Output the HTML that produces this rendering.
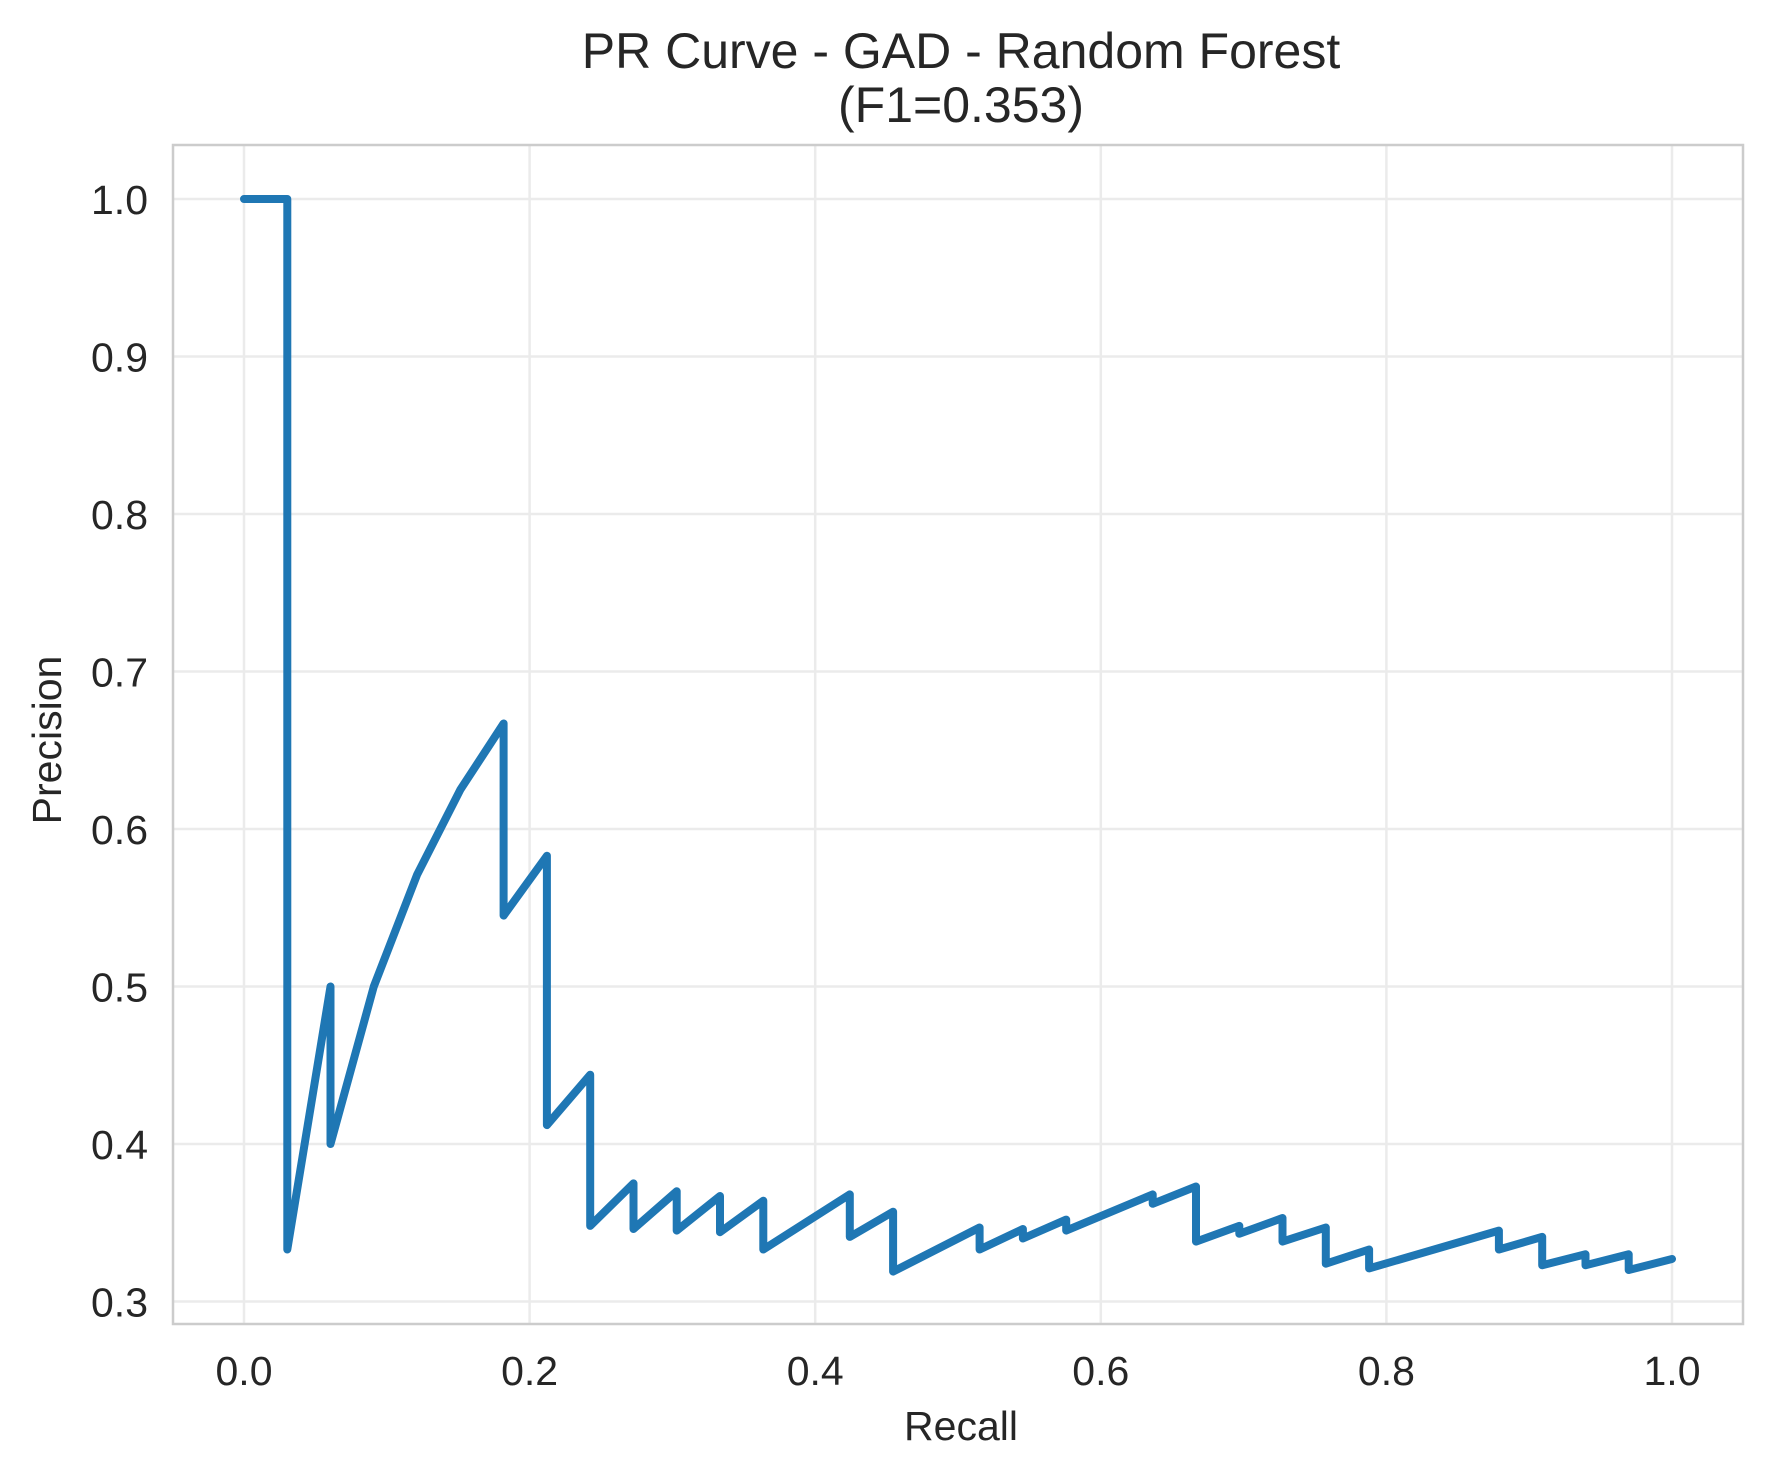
<!DOCTYPE html>
<html><head><meta charset="utf-8"><style>
html,body{margin:0;padding:0;background:#fff;}
svg{display:block;font-family:"Liberation Sans","DejaVu Sans",sans-serif;}
</style></head><body>
<svg id="chart" width="1771" height="1476" viewBox="0 0 1771 1476" xmlns="http://www.w3.org/2000/svg">
<rect width="1771" height="1476" fill="#fff"/>
<g id="grid"></g>
<rect x="173" y="145" width="1570" height="1179" fill="none" stroke="#cccccc" stroke-width="2.5"/>
<g id="ticks"></g>
<path id="curve" fill="none" stroke="#1f77b4" stroke-width="8" stroke-linejoin="round" stroke-linecap="round"/>
<text x="961" y="68" text-anchor="middle" font-size="50" fill="#262626">PR Curve - GAD - Random Forest</text>
<text x="961" y="122" text-anchor="middle" font-size="50" fill="#262626">(F1=0.353)</text>
<text x="961" y="1440" text-anchor="middle" font-size="41" fill="#262626">Recall</text>
<text transform="translate(61,740) rotate(-90)" text-anchor="middle" font-size="41" fill="#262626">Precision</text>
</svg>
<script>
const recall = [0,1,1,2,2,3,4,5,6,6,7,7,8,8,9,9,10,10,11,11,12,12,14,14,15,15,17,17,18,18,19,19,21,21,22,22,23,23,24,24,25,25,26,26,29,29,30,30,31,31,32,32,33];
const recallDenom = 33;
const precision = [1,1,0.333,0.5,0.4,0.5,0.571,0.625,0.667,0.545,0.583,0.412,0.444,0.348,0.375,0.346,0.370,0.345,0.367,0.344,0.364,0.333,0.368,0.341,0.357,0.319,0.347,0.333,0.346,0.340,0.352,0.345,0.368,0.362,0.373,0.338,0.348,0.343,0.353,0.338,0.347,0.324,0.333,0.321,0.345,0.333,0.341,0.323,0.330,0.323,0.330,0.320,0.327];
const xTicks = [0,0.2,0.4,0.6,0.8,1.0];
const xTickLabels = ["0.0","0.2","0.4","0.6","0.8","1.0"];
const yTicks = [0.3,0.4,0.5,0.6,0.7,0.8,0.9,1.0];
const yTickLabels = ["0.3","0.4","0.5","0.6","0.7","0.8","0.9","1.0"];

const X = v => 244 + v*1428;
const Y = v => 199 + (1-v)*1575;
const NS = "http://www.w3.org/2000/svg";
const grid = document.getElementById('grid');
const ticks = document.getElementById('ticks');
function mk(tag, attrs, parent){const e=document.createElementNS(NS,tag);for(const k in attrs)e.setAttribute(k,attrs[k]);parent.appendChild(e);return e;}
xTicks.forEach((t,i)=>{
  const l=mk('line',{x1:X(t),x2:X(t),y1:145,y2:1324,stroke:'#ebebeb','stroke-width':2.5},grid);
  
  
  const tx=mk('text',{x:X(t),y:1385,'text-anchor':'middle','font-size':41,fill:'#262626'},ticks);
  tx.textContent=xTickLabels[i];
  
  
});
yTicks.forEach((t,i)=>{
  const l=mk('line',{x1:173,x2:1743,y1:Y(t),y2:Y(t),stroke:'#ebebeb','stroke-width':2.5},grid);
  
  
  const tx=mk('text',{x:148,y:Y(t)+15,'text-anchor':'end','font-size':41,fill:'#262626'},ticks);
  tx.textContent=yTickLabels[i];
  
  
});
let d='';
recall.forEach((r,i)=>{d+=(i?'L':'M')+X(r/recallDenom).toFixed(1)+' '+Y(precision[i]).toFixed(1)+' ';});
document.getElementById('curve').setAttribute('d',d);
</script>
</body></html>
